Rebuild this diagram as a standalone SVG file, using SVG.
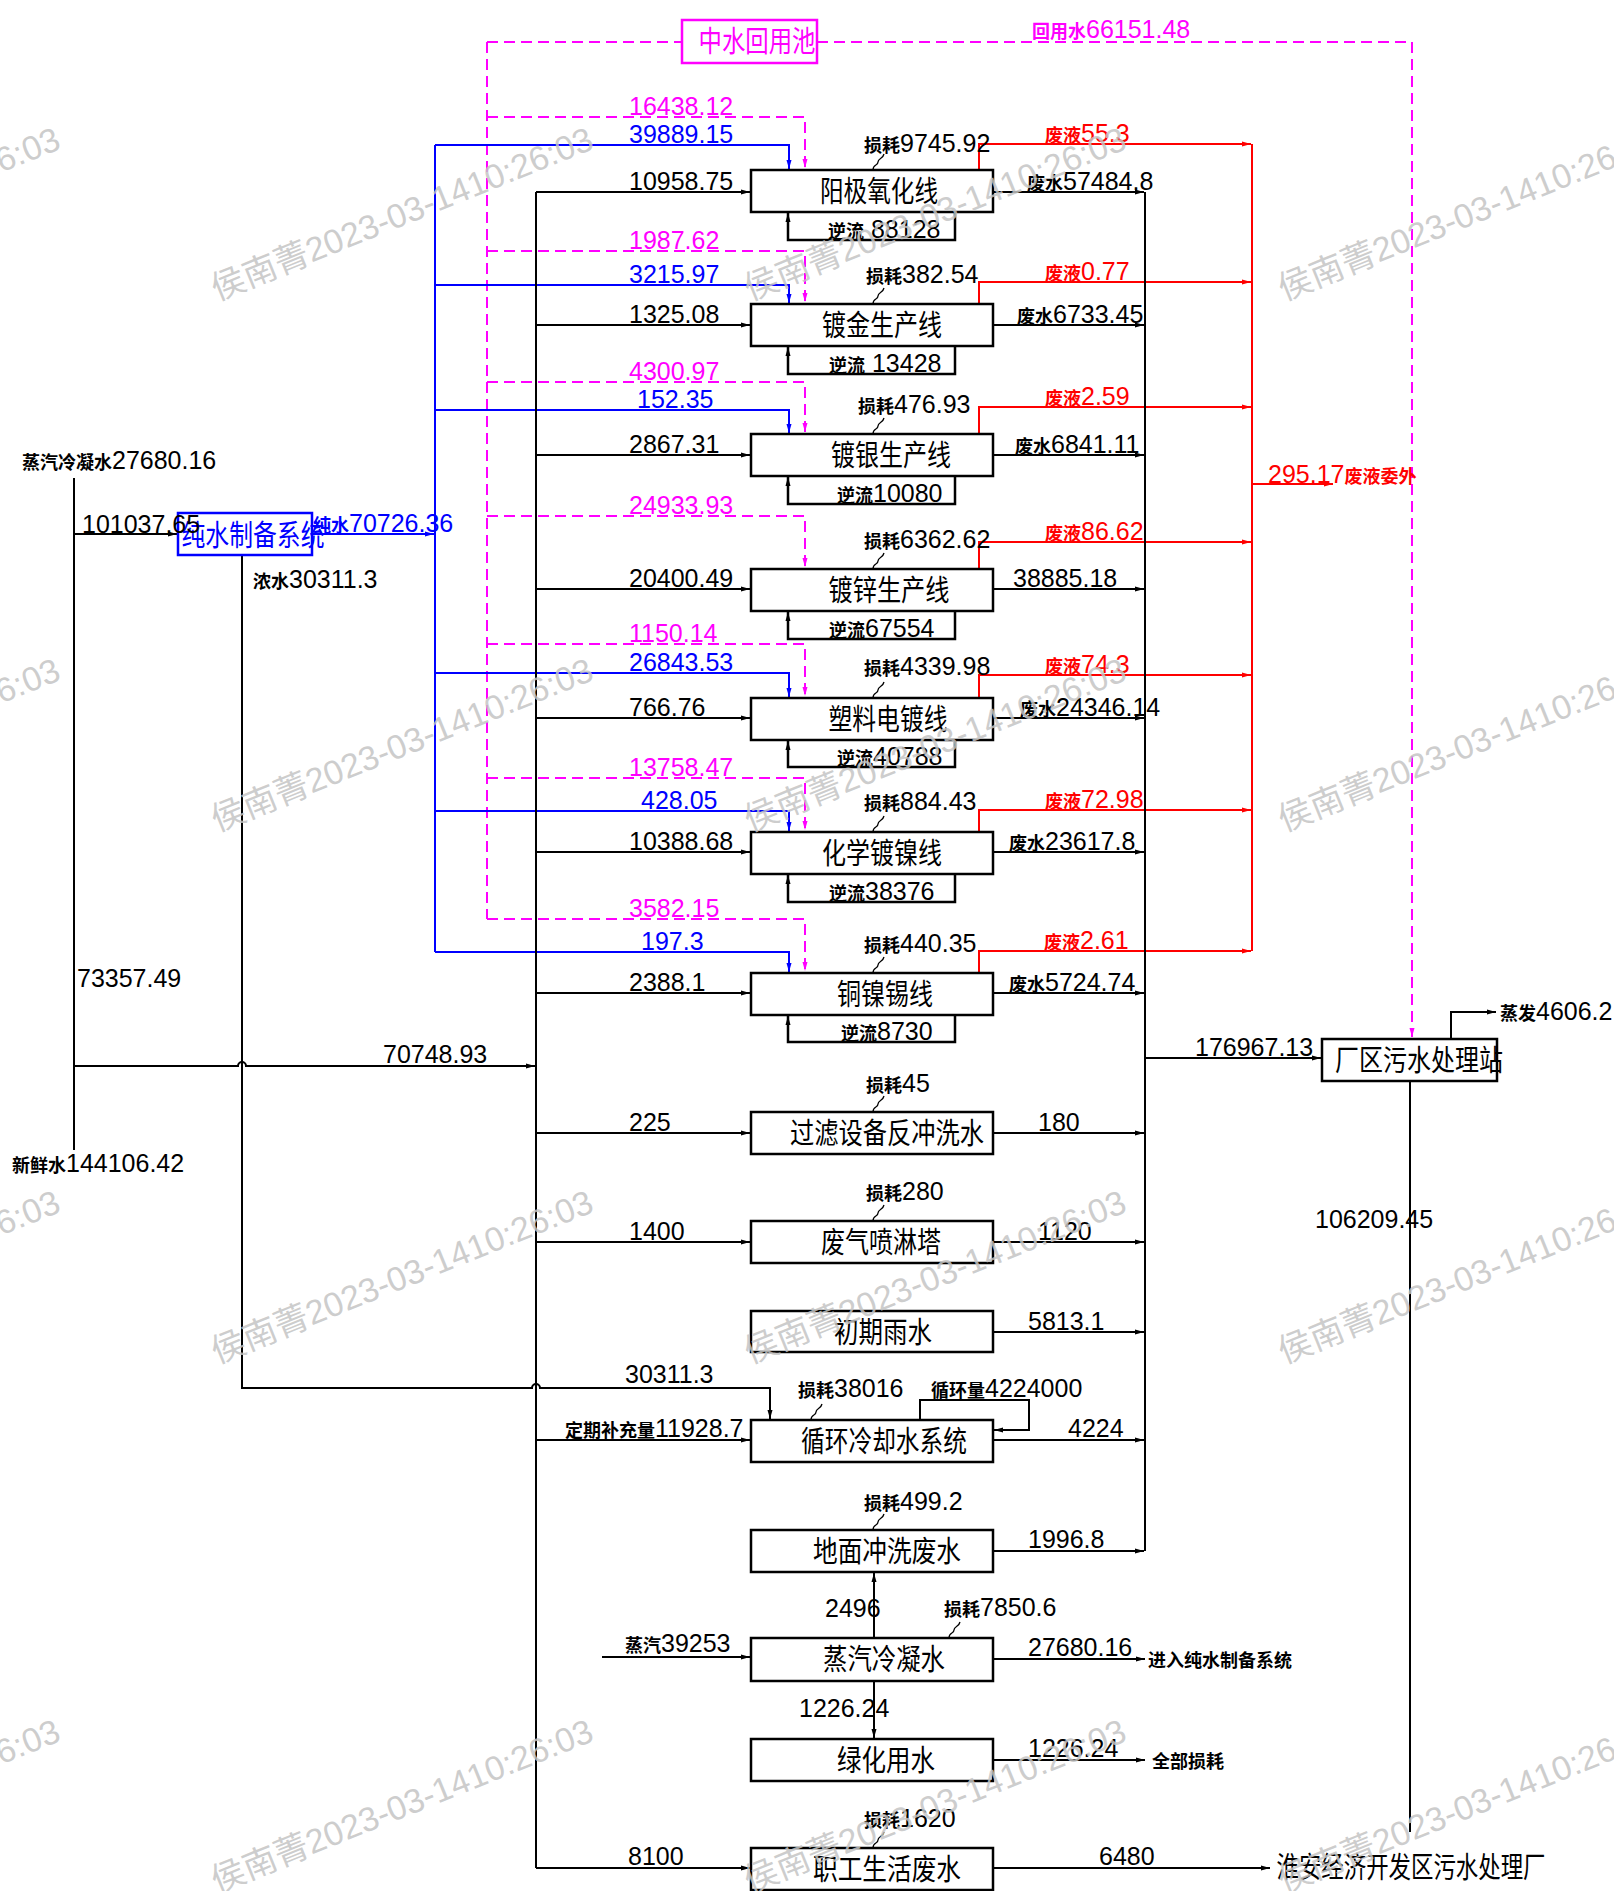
<svg xmlns="http://www.w3.org/2000/svg" width="1614" height="1891" viewBox="0 0 1614 1891">
<style>
.k{fill:none;stroke:#000;stroke-width:2}
.b{fill:none;stroke:#0000ff;stroke-width:2}
.m{fill:none;stroke:#ff00ff;stroke-width:2;stroke-dasharray:11 6}
.r{fill:none;stroke:#ff0000;stroke-width:2}
.bx{fill:#fff;stroke:#000;stroke-width:2.5}
.nl{fill:none;stroke:#000;stroke-width:2.5}
.w{fill:none;stroke:#000;stroke-width:1.3}
text{font-family:"Liberation Sans","Noto Sans CJK SC",sans-serif;font-size:25px;fill:#000}
.t{font-family:"Noto Sans CJK SC","Liberation Sans",sans-serif;font-size:29px;text-anchor:middle}
.s{font-family:"Noto Sans CJK SC",sans-serif;font-size:18px;font-weight:bold}
.cb{fill:#0000ff}.cm{fill:#ff00ff}.cr{fill:#ff0000}
.wm{font-family:"Liberation Sans","Noto Sans CJK SC",sans-serif;font-size:34px;fill:#c4c4c4;fill-opacity:0.85}
</style>
<defs>
<marker id="ak" markerWidth="10" markerHeight="8" refX="9" refY="4" orient="auto" markerUnits="userSpaceOnUse"><path d="M0,1.5 L9,4 L0,6.5z" fill="#000"/></marker>
<marker id="ab" markerWidth="10" markerHeight="8" refX="9" refY="4" orient="auto" markerUnits="userSpaceOnUse"><path d="M0,1.5 L9,4 L0,6.5z" fill="#0000ff"/></marker>
<marker id="ar" markerWidth="10" markerHeight="8" refX="9" refY="4" orient="auto" markerUnits="userSpaceOnUse"><path d="M0,1.5 L9,4 L0,6.5z" fill="#ff0000"/></marker>
<marker id="am" markerWidth="10" markerHeight="8" refX="9" refY="4" orient="auto" markerUnits="userSpaceOnUse"><path d="M0,1.5 L9,4 L0,6.5z" fill="#ff00ff"/></marker>
</defs>

<g id="connectors">
<path class="m" d="M487,42 V919"/>
<path class="m" d="M487,42 H682"/>
<path class="m" d="M817,42 H1412 V1037" marker-end="url(#am)"/>
<path class="m" d="M487,117 H805 V168" marker-end="url(#am)"/>
<path class="m" d="M487,251 H805 V302" marker-end="url(#am)"/>
<path class="m" d="M487,382 H805 V432" marker-end="url(#am)"/>
<path class="m" d="M487,516 H805 V567" marker-end="url(#am)"/>
<path class="m" d="M487,644 H805 V696" marker-end="url(#am)"/>
<path class="m" d="M487,778 H805 V830" marker-end="url(#am)"/>
<path class="m" d="M487,919 H805 V971" marker-end="url(#am)"/>
<path class="b" d="M312,534 H434" marker-end="url(#ab)"/>
<path class="b" d="M435,145 V952"/>
<path class="b" d="M435,145 H789 V169" marker-end="url(#ab)"/>
<path class="b" d="M435,285 H789 V303" marker-end="url(#ab)"/>
<path class="b" d="M435,410 H789 V433" marker-end="url(#ab)"/>
<path class="b" d="M435,673 H789 V697" marker-end="url(#ab)"/>
<path class="b" d="M435,811 H789 V831" marker-end="url(#ab)"/>
<path class="b" d="M435,952 H789 V972" marker-end="url(#ab)"/>
<path class="r" d="M1252,144 V951"/>
<path class="r" d="M979,170 V144 H1251" marker-end="url(#ar)"/>
<path class="r" d="M979,304 V282 H1251" marker-end="url(#ar)"/>
<path class="r" d="M979,434 V407 H1251" marker-end="url(#ar)"/>
<path class="r" d="M979,569 V542 H1251" marker-end="url(#ar)"/>
<path class="r" d="M979,698 V675 H1251" marker-end="url(#ar)"/>
<path class="r" d="M979,832 V810 H1251" marker-end="url(#ar)"/>
<path class="r" d="M979,973 V951 H1251" marker-end="url(#ar)"/>
<path class="r" d="M1252,484 H1333" marker-end="url(#ar)"/>
<path class="k" d="M536,192 V1868"/>
<path class="k" d="M536,192 H750" marker-end="url(#ak)"/>
<path class="k" d="M536,325 H750" marker-end="url(#ak)"/>
<path class="k" d="M536,455 H750" marker-end="url(#ak)"/>
<path class="k" d="M536,589 H750" marker-end="url(#ak)"/>
<path class="k" d="M536,718 H750" marker-end="url(#ak)"/>
<path class="k" d="M536,852 H750" marker-end="url(#ak)"/>
<path class="k" d="M536,993 H750" marker-end="url(#ak)"/>
<path class="k" d="M536,1133 H750" marker-end="url(#ak)"/>
<path class="k" d="M536,1242 H750" marker-end="url(#ak)"/>
<path class="k" d="M536,1440 H750" marker-end="url(#ak)"/>
<path class="k" d="M536,1868 H750" marker-end="url(#ak)"/>
<path class="k" d="M1145,192 V1551"/>
<path class="k" d="M993,192 H1144" marker-end="url(#ak)"/>
<path class="k" d="M993,325 H1144" marker-end="url(#ak)"/>
<path class="k" d="M993,455 H1144" marker-end="url(#ak)"/>
<path class="k" d="M993,589 H1144" marker-end="url(#ak)"/>
<path class="k" d="M993,718 H1144" marker-end="url(#ak)"/>
<path class="k" d="M993,852 H1144" marker-end="url(#ak)"/>
<path class="k" d="M993,993 H1144" marker-end="url(#ak)"/>
<path class="k" d="M993,1133 H1144" marker-end="url(#ak)"/>
<path class="k" d="M993,1242 H1144" marker-end="url(#ak)"/>
<path class="k" d="M993,1332 H1144" marker-end="url(#ak)"/>
<path class="k" d="M993,1440 H1144" marker-end="url(#ak)"/>
<path class="k" d="M993,1551 H1144" marker-end="url(#ak)"/>
<path class="k" d="M1145,1058 H1321" marker-end="url(#ak)"/>
<path class="k" d="M1451,1039 V1012 H1496" marker-end="url(#ak)"/>
<path class="k" d="M1410,1081 V1832"/>
<path class="k" d="M74,478 V1150"/>
<path class="k" d="M74,534 H177" marker-end="url(#ak)"/>
<path class="k" d="M74,1066 H238 a4,4 0 0 1 8,0 H535" marker-end="url(#ak)"/>
<path class="k" d="M242,555 V1388 H532 a4,4 0 0 1 8,0 H770 V1419" marker-end="url(#ak)"/>
<path class="k" d="M920,1420 V1400 H1029 V1430 H994" marker-end="url(#ak)"/>
<path class="k" d="M874,1638 V1573" marker-end="url(#ak)"/>
<path class="k" d="M874,1681 V1738" marker-end="url(#ak)"/>
<path class="k" d="M602,1657 H750" marker-end="url(#ak)"/>
<path class="k" d="M993,1659 H1145" marker-end="url(#ak)"/>
<path class="k" d="M993,1760 H1145" marker-end="url(#ak)"/>
<path class="k" d="M993,1868 H1270" marker-end="url(#ak)"/>
<path class="nl" d="M955,212 V240 H788 V213" marker-end="url(#ak)"/>
<path class="nl" d="M955,346 V374 H788 V347" marker-end="url(#ak)"/>
<path class="nl" d="M955,476 V504 H788 V477" marker-end="url(#ak)"/>
<path class="nl" d="M955,611 V639 H788 V612" marker-end="url(#ak)"/>
<path class="nl" d="M955,740 V767 H788 V741" marker-end="url(#ak)"/>
<path class="nl" d="M955,874 V902 H788 V875" marker-end="url(#ak)"/>
<path class="nl" d="M955,1015 V1042 H788 V1016" marker-end="url(#ak)"/>
<path class="w" d="M873,170 c0,-6 5,-4 5,-8 c0,-4 5,-3 6,-8"/>
<path class="w" d="M873,304 c0,-6 5,-4 5,-8 c0,-4 5,-3 6,-8"/>
<path class="w" d="M873,434 c0,-6 5,-4 5,-8 c0,-4 5,-3 6,-8"/>
<path class="w" d="M873,569 c0,-6 5,-4 5,-8 c0,-4 5,-3 6,-8"/>
<path class="w" d="M873,698 c0,-6 5,-4 5,-8 c0,-4 5,-3 6,-8"/>
<path class="w" d="M873,832 c0,-6 5,-4 5,-8 c0,-4 5,-3 6,-8"/>
<path class="w" d="M873,973 c0,-6 5,-4 5,-8 c0,-4 5,-3 6,-8"/>
<path class="w" d="M873,1112 c0,-6 5,-4 5,-8 c0,-4 5,-3 6,-8"/>
<path class="w" d="M873,1221 c0,-6 5,-4 5,-8 c0,-4 5,-3 6,-8"/>
<path class="w" d="M811,1420 c0,-6 5,-4 5,-8 c0,-4 5,-3 6,-8"/>
<path class="w" d="M873,1530 c0,-6 5,-4 5,-8 c0,-4 5,-3 6,-8"/>
<path class="w" d="M949,1638 c0,-6 5,-4 5,-8 c0,-4 5,-3 6,-8"/>
<path class="w" d="M873,1848 c0,-6 5,-4 5,-8 c0,-4 5,-3 6,-8"/>
</g>

<g id="node-zhongshui"><rect x="682" y="20" width="135" height="43" fill="#fff" stroke="#ff00ff" stroke-width="2.5"/><text class="t cm" x="757" y="52" textLength="117" lengthAdjust="spacingAndGlyphs">中水回用池</text></g>
<g id="node-chunshui"><rect x="178" y="513" width="134" height="42" fill="none" stroke="#0000ff" stroke-width="2.5"/><text class="t cb" x="253" y="546" textLength="143" lengthAdjust="spacingAndGlyphs">纯水制备系统</text></g>
<g id="node-yangji"><rect class="bx" x="751" y="170" width="242" height="42"/><text class="t" x="879" y="202" textLength="118" lengthAdjust="spacingAndGlyphs">阳极氧化线</text></g>
<g id="node-dujin"><rect class="bx" x="751" y="304" width="242" height="42"/><text class="t" x="882" y="336" textLength="120" lengthAdjust="spacingAndGlyphs">镀金生产线</text></g>
<g id="node-duyin"><rect class="bx" x="751" y="434" width="242" height="42"/><text class="t" x="891" y="466" textLength="120" lengthAdjust="spacingAndGlyphs">镀银生产线</text></g>
<g id="node-duxin"><rect class="bx" x="751" y="569" width="242" height="42"/><text class="t" x="889" y="601" textLength="121" lengthAdjust="spacingAndGlyphs">镀锌生产线</text></g>
<g id="node-suliao"><rect class="bx" x="751" y="698" width="242" height="42"/><text class="t" x="888" y="730" textLength="119" lengthAdjust="spacingAndGlyphs">塑料电镀线</text></g>
<g id="node-huaxue"><rect class="bx" x="751" y="832" width="242" height="42"/><text class="t" x="882" y="864" textLength="120" lengthAdjust="spacingAndGlyphs">化学镀镍线</text></g>
<g id="node-tongnie"><rect class="bx" x="751" y="973" width="242" height="42"/><text class="t" x="885" y="1005" textLength="96" lengthAdjust="spacingAndGlyphs">铜镍锡线</text></g>
<g id="node-guolv"><rect class="bx" x="751" y="1112" width="242" height="42"/><text class="t" x="887" y="1144" textLength="194" lengthAdjust="spacingAndGlyphs">过滤设备反冲洗水</text></g>
<g id="node-feiqi"><rect class="bx" x="751" y="1221" width="242" height="42"/><text class="t" x="881" y="1253" textLength="120" lengthAdjust="spacingAndGlyphs">废气喷淋塔</text></g>
<g id="node-yushui"><rect class="bx" x="751" y="1311" width="242" height="41"/><text class="t" x="883" y="1343" textLength="98" lengthAdjust="spacingAndGlyphs">初期雨水</text></g>
<g id="node-xunhuan"><rect class="bx" x="751" y="1420" width="242" height="42"/><text class="t" x="884" y="1452" textLength="166" lengthAdjust="spacingAndGlyphs">循环冷却水系统</text></g>
<g id="node-dimian"><rect class="bx" x="751" y="1530" width="242" height="42"/><text class="t" x="887" y="1562" textLength="148" lengthAdjust="spacingAndGlyphs">地面冲洗废水</text></g>
<g id="node-zhengqi"><rect class="bx" x="751" y="1638" width="242" height="43"/><text class="t" x="884" y="1670" textLength="122" lengthAdjust="spacingAndGlyphs">蒸汽冷凝水</text></g>
<g id="node-lvhua"><rect class="bx" x="751" y="1739" width="242" height="42"/><text class="t" x="886" y="1771" textLength="98" lengthAdjust="spacingAndGlyphs">绿化用水</text></g>
<g id="node-zhigong"><rect class="bx" x="751" y="1848" width="242" height="42"/><text class="t" x="887" y="1880" textLength="148" lengthAdjust="spacingAndGlyphs">职工生活废水</text></g>
<g id="node-changqu"><rect class="bx" x="1322" y="1039" width="175" height="42"/><text class="t" x="1419" y="1071" textLength="168" lengthAdjust="spacingAndGlyphs">厂区污水处理站</text></g>

<g id="labels">
<text class="cm" x="1032" y="38"><tspan class="s cm">回用水</tspan>66151.48</text>
<text class="cm" x="629" y="115">16438.12</text>
<text class="cm" x="629" y="249">1987.62</text>
<text class="cm" x="629" y="380">4300.97</text>
<text class="cm" x="629" y="514">24933.93</text>
<text class="cm" x="629" y="642">1150.14</text>
<text class="cm" x="629" y="776">13758.47</text>
<text class="cm" x="629" y="917">3582.15</text>
<text class="cb" x="629" y="143">39889.15</text>
<text class="cb" x="629" y="283">3215.97</text>
<text class="cb" x="637" y="408">152.35</text>
<text class="cb" x="629" y="671">26843.53</text>
<text class="cb" x="641" y="809">428.05</text>
<text class="cb" x="641" y="950">197.3</text>
<text class="cb" x="313" y="532"><tspan class="s cb">纯水</tspan>70726.36</text>
<text x="629" y="190">10958.75</text>
<text x="629" y="323">1325.08</text>
<text x="629" y="453">2867.31</text>
<text x="629" y="587">20400.49</text>
<text x="629" y="716">766.76</text>
<text x="629" y="850">10388.68</text>
<text x="629" y="991">2388.1</text>
<text x="629" y="1131">225</text>
<text x="629" y="1240">1400</text>
<text x="625" y="1383">30311.3</text>
<text x="565" y="1437"><tspan class="s">定期补充量</tspan>11928.7</text>
<text x="625" y="1652"><tspan class="s">蒸汽</tspan>39253</text>
<text x="628" y="1865">8100</text>
<text x="864" y="152"><tspan class="s">损耗</tspan>9745.92</text>
<text x="866" y="283"><tspan class="s">损耗</tspan>382.54</text>
<text x="858" y="413"><tspan class="s">损耗</tspan>476.93</text>
<text x="864" y="548"><tspan class="s">损耗</tspan>6362.62</text>
<text x="864" y="675"><tspan class="s">损耗</tspan>4339.98</text>
<text x="864" y="810"><tspan class="s">损耗</tspan>884.43</text>
<text x="864" y="952"><tspan class="s">损耗</tspan>440.35</text>
<text x="866" y="1092"><tspan class="s">损耗</tspan>45</text>
<text x="866" y="1200"><tspan class="s">损耗</tspan>280</text>
<text x="798" y="1397"><tspan class="s">损耗</tspan>38016</text>
<text x="931" y="1397"><tspan class="s">循环量</tspan>4224000</text>
<text x="864" y="1510"><tspan class="s">损耗</tspan>499.2</text>
<text x="944" y="1616"><tspan class="s">损耗</tspan>7850.6</text>
<text x="864" y="1827"><tspan class="s">损耗</tspan>1620</text>
<text x="828" y="238"><tspan class="s">逆流</tspan> 88128</text>
<text x="829" y="372"><tspan class="s">逆流</tspan> 13428</text>
<text x="837" y="502"><tspan class="s">逆流</tspan>10080</text>
<text x="829" y="637"><tspan class="s">逆流</tspan>67554</text>
<text x="837" y="765"><tspan class="s">逆流</tspan>40788</text>
<text x="829" y="900"><tspan class="s">逆流</tspan>38376</text>
<text x="841" y="1040"><tspan class="s">逆流</tspan>8730</text>
<text class="cr" x="1045" y="142"><tspan class="s cr">废液</tspan>55.3</text>
<text class="cr" x="1045" y="280"><tspan class="s cr">废液</tspan>0.77</text>
<text class="cr" x="1045" y="405"><tspan class="s cr">废液</tspan>2.59</text>
<text class="cr" x="1045" y="540"><tspan class="s cr">废液</tspan>86.62</text>
<text class="cr" x="1045" y="673"><tspan class="s cr">废液</tspan>74.3</text>
<text class="cr" x="1045" y="808"><tspan class="s cr">废液</tspan>72.98</text>
<text class="cr" x="1044" y="949"><tspan class="s cr">废液</tspan>2.61</text>
<text class="cr" x="1268" y="483">295.17<tspan class="s cr">废液委外</tspan></text>
<text x="1027" y="190"><tspan class="s">废水</tspan>57484.8</text>
<text x="1017" y="323"><tspan class="s">废水</tspan>6733.45</text>
<text x="1015" y="453"><tspan class="s">废水</tspan>6841.11</text>
<text x="1013" y="587">38885.18</text>
<text x="1020" y="716"><tspan class="s">废水</tspan>24346.14</text>
<text x="1009" y="850"><tspan class="s">废水</tspan>23617.8</text>
<text x="1009" y="991"><tspan class="s">废水</tspan>5724.74</text>
<text x="1038" y="1131">180</text>
<text x="1038" y="1240">1120</text>
<text x="1028" y="1330">5813.1</text>
<text x="1068" y="1437">4224</text>
<text x="1028" y="1548">1996.8</text>
<text x="825" y="1617">2496</text>
<text x="1028" y="1656">27680.16</text>
<text class="s" x="1148" y="1667">进入纯水制备系统</text>
<text x="799" y="1717">1226.24</text>
<text x="1028" y="1757">1226.24</text>
<text class="s" x="1152" y="1768">全部损耗</text>
<text x="1099" y="1865">6480</text>
<text class="t" x="1411" y="1878" textLength="269" lengthAdjust="spacingAndGlyphs">淮安经济开发区污水处理厂</text>
<text x="1195" y="1056">176967.13</text>
<text x="1500" y="1020"><tspan class="s">蒸发</tspan>4606.2</text>
<text x="1315" y="1228">106209.45</text>
<text x="22" y="469"><tspan class="s">蒸汽冷凝水</tspan>27680.16</text>
<text x="82" y="533">101037.65</text>
<text x="253" y="588"><tspan class="s">浓水</tspan>30311.3</text>
<text x="77" y="987">73357.49</text>
<text x="383" y="1063">70748.93</text>
<text x="12" y="1172"><tspan class="s">新鲜水</tspan>144106.42</text>
</g>

<g id="watermark">
<text class="wm" transform="translate(-316,301) rotate(-22)">侯南菁2023-03-1410:26:03</text>
<text class="wm" transform="translate(217,301) rotate(-22)">侯南菁2023-03-1410:26:03</text>
<text class="wm" transform="translate(750,301) rotate(-22)">侯南菁2023-03-1410:26:03</text>
<text class="wm" transform="translate(1284,301) rotate(-22)">侯南菁2023-03-1410:26:03</text>
<text class="wm" transform="translate(-316,832) rotate(-22)">侯南菁2023-03-1410:26:03</text>
<text class="wm" transform="translate(217,832) rotate(-22)">侯南菁2023-03-1410:26:03</text>
<text class="wm" transform="translate(750,832) rotate(-22)">侯南菁2023-03-1410:26:03</text>
<text class="wm" transform="translate(1284,832) rotate(-22)">侯南菁2023-03-1410:26:03</text>
<text class="wm" transform="translate(-316,1364) rotate(-22)">侯南菁2023-03-1410:26:03</text>
<text class="wm" transform="translate(217,1364) rotate(-22)">侯南菁2023-03-1410:26:03</text>
<text class="wm" transform="translate(750,1364) rotate(-22)">侯南菁2023-03-1410:26:03</text>
<text class="wm" transform="translate(1284,1364) rotate(-22)">侯南菁2023-03-1410:26:03</text>
<text class="wm" transform="translate(-316,1893) rotate(-22)">侯南菁2023-03-1410:26:03</text>
<text class="wm" transform="translate(217,1893) rotate(-22)">侯南菁2023-03-1410:26:03</text>
<text class="wm" transform="translate(750,1893) rotate(-22)">侯南菁2023-03-1410:26:03</text>
<text class="wm" transform="translate(1284,1893) rotate(-22)">侯南菁2023-03-1410:26:03</text>
</g>
</svg>
